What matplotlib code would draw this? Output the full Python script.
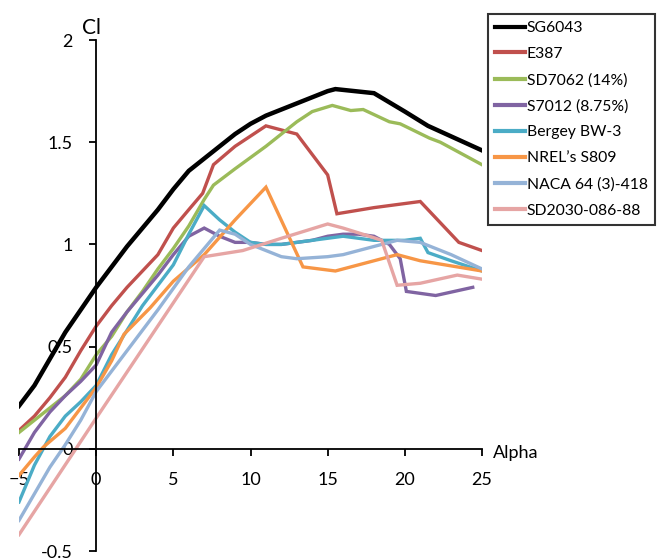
# Courbes Cl = f(Alpha) pour plusieurs profils d'aile
import matplotlib
matplotlib.use("Agg")
import matplotlib.pyplot as plt

plt.rcParams["font.family"] = ["Lato", "DejaVu Sans"]

# SG6043
sg6043_x = [-5, -4, -3, -2, -1, 0, 1, 2, 3, 4, 5, 6, 7, 8, 9, 10, 11, 12, 13, 14, 15, 15.5, 18, 20, 21.5, 25]
sg6043_y = [0.21, 0.31, 0.44, 0.57, 0.68, 0.79, 0.89, 0.99, 1.08, 1.17, 1.27, 1.36, 1.42, 1.48, 1.54, 1.59,
            1.63, 1.66, 1.69, 1.72, 1.75, 1.76, 1.74, 1.65, 1.58, 1.46]
# E387
e387_x = [-5, -4, -3, -2, -1, 0, 1, 2, 3, 4, 5, 6, 6.9, 7.6, 9, 11, 13, 15, 15.6, 18, 21, 23.5, 25]
e387_y = [0.09, 0.16, 0.25, 0.35, 0.48, 0.6, 0.7, 0.79, 0.87, 0.95, 1.08, 1.17, 1.25, 1.39, 1.48, 1.58,
          1.54, 1.34, 1.15, 1.18, 1.21, 1.01, 0.97]
# SD7062 (14%)
sd7062_x = [-5, -4, -3, -2, -1, 0, 1, 2, 3, 4, 5, 6, 7, 7.6, 9, 11, 13, 14, 15.3, 16.5, 17.3, 19, 19.7,
            21.6, 22.3, 25]
sd7062_y = [0.08, 0.14, 0.2, 0.26, 0.34, 0.46, 0.55, 0.67, 0.77, 0.88, 0.98, 1.09, 1.22, 1.29, 1.37, 1.48,
            1.6, 1.65, 1.68, 1.655, 1.66, 1.6, 1.59, 1.52, 1.5, 1.39]
# S7012 (8.75%)
s7012_x = [-5, -4, -3, -2, -1, 0, 1, 2, 3, 4, 5, 6, 7, 8, 9, 10, 11, 12, 13, 14, 15, 16, 17, 18, 19,
           19.7, 20.1, 22, 24.4]
s7012_y = [-0.05, 0.08, 0.18, 0.26, 0.33, 0.41, 0.57, 0.67, 0.76, 0.85, 0.95, 1.04, 1.08, 1.04, 1.01, 1.01,
           1.0, 1.0, 1.01, 1.02, 1.04, 1.05, 1.05, 1.04, 1.0, 0.93, 0.77, 0.75, 0.79]
# Bergey BW-3
bergey_x = [-5, -4, -3, -2, -1, 0, 1, 2, 3, 4, 5, 6, 7, 8, 9, 10, 11, 12, 13, 14, 15, 16, 17, 18, 19, 20,
            21, 21.5, 23, 25]
bergey_y = [-0.26, -0.08, 0.06, 0.16, 0.23, 0.31, 0.46, 0.58, 0.7, 0.8, 0.9, 1.05, 1.19, 1.12, 1.06, 1.01,
            1.0, 1.0, 1.01, 1.02, 1.03, 1.04, 1.03, 1.02, 1.02, 1.02, 1.03, 0.96, 0.92, 0.87]
# NREL's S809
s809_x = [-5, -4, -3.4, -2, -1, 0, 1, 1.8, 3.5, 5, 7, 9, 11, 13.4, 15.5, 17, 19.5, 21, 25]
s809_y = [-0.13, -0.04, 0.01, 0.1, 0.2, 0.3, 0.43, 0.56, 0.69, 0.82, 0.95, 1.12, 1.28, 0.89, 0.87, 0.9,
          0.95, 0.92, 0.87]
# NACA 64 (3)-418
naca_x = [-5, -4, -3, -2, -1, 0, 2, 4, 6, 7, 8, 9, 10, 11, 12, 13, 15, 16, 17, 18, 19.5, 21, 23, 25]
naca_y = [-0.35, -0.22, -0.09, 0.02, 0.14, 0.28, 0.48, 0.68, 0.89, 0.98, 1.07, 1.05, 1.0, 0.97, 0.94, 0.93,
          0.94, 0.95, 0.97, 0.99, 1.02, 1.01, 0.95, 0.88]
# SD2030-086-88
sd2030_x = [-5, 0, 7, 9.5, 12, 15, 16, 17.7, 18.5, 19.5, 21, 23.4, 25]
sd2030_y = [-0.42, 0.15, 0.94, 0.97, 1.03, 1.10, 1.08, 1.04, 1.02, 0.80, 0.81, 0.85, 0.83]

series = [
    (sg6043_x, sg6043_y, "SG6043", "#000000", 3.2),
    (e387_x, e387_y, "E387", "#C0504D", 2.4),
    (sd7062_x, sd7062_y, "SD7062 (14%)", "#9BBB59", 2.4),
    (s7012_x, s7012_y, "S7012 (8.75%)", "#8064A2", 2.4),
    (bergey_x, bergey_y, "Bergey BW-3", "#4BACC6", 2.4),
    (s809_x, s809_y, "NREL\u2019s S809", "#F79646", 2.4),
    (naca_x, naca_y, "NACA 64 (3)-418", "#95B3D7", 2.4),
    (sd2030_x, sd2030_y, "SD2030-086-88", "#E6A5A4", 2.4),
]

fig = plt.figure(figsize=(6.6, 5.59), dpi=100)
ax = fig.add_axes([0.0288, 0.0143, 0.7015, 0.9141])

for x, y, label, color, lw in series:
    ax.plot(x, y, color=color, linewidth=lw, label=label, solid_joinstyle="miter")

ax.set_xlim(-5, 25)
ax.set_ylim(-0.5, 2)
ax.set_xticks([-5, 0, 5, 10, 15, 20, 25])
ax.set_yticks([-0.5, 0, 0.5, 1, 1.5, 2])
ax.set_yticklabels(["-0.5", "0", "0.5", "1", "1.5", "2"])

# axes croisés à l'origine
ax.spines["left"].set_position(("data", 0))
ax.spines["bottom"].set_position(("data", 0))
ax.spines["top"].set_visible(False)
ax.spines["right"].set_visible(False)
for s in ["left", "bottom"]:
    ax.spines[s].set_linewidth(1.3)
ax.tick_params(axis="both", direction="out", length=5, width=1.3, labelsize=13)
ax.tick_params(axis="x", pad=12)
ax.tick_params(axis="y", pad=12)

ax.text(-0.3, 2.06, "Cl", ha="center", va="center", fontsize=15, clip_on=False)
ax.text(25.7, -0.02, "Alpha", ha="left", va="center", fontsize=13, clip_on=False)

leg = ax.legend(loc="upper right", bbox_to_anchor=(0.992, 0.975), bbox_transform=fig.transFigure,
                fontsize=11.3, frameon=True, fancybox=False, borderaxespad=0,
                handlelength=1.9, handletextpad=0.1, labelspacing=0.76, borderpad=0.45)
leg.get_frame().set_edgecolor("black")
leg.get_frame().set_linewidth(1.5)
for line in leg.get_lines():
    line.set_linewidth(3.0)

plt.savefig("out.png", dpi=100)
plt.close()
